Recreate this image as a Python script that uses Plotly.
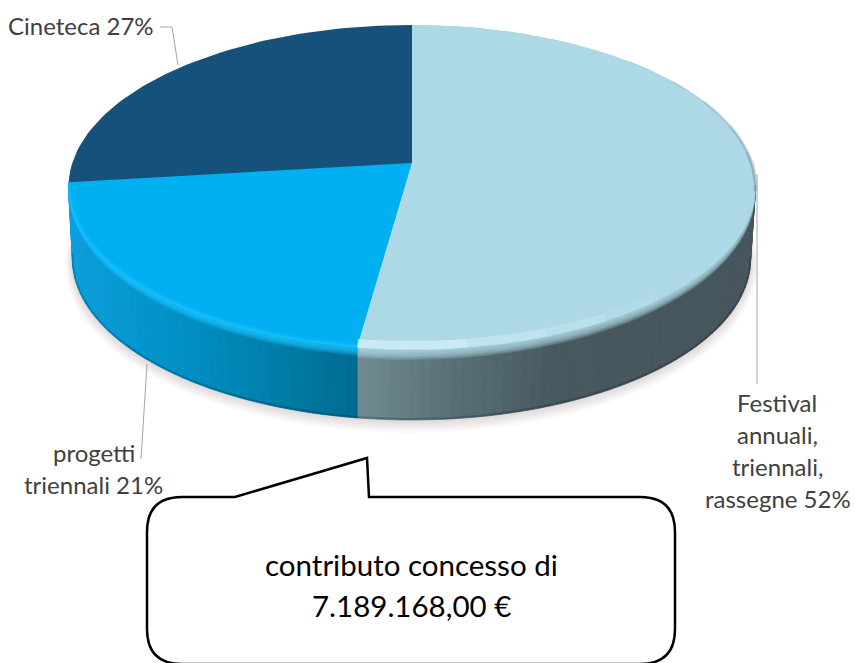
import math
import plotly.graph_objects as go

categories = ["Festival annuali, triennali, rassegne", "progetti triennali", "Cineteca"]
values = [52.2, 20.9, 26.9]
percent_labels = ["52%", "21%", "27%"]
face_colors = ["#add8e6", "#00b0f0", "#15517b"]
callout_lines = ["contributo concesso di", "7.189.168,00 €"]

CX, CY, RX, RY = 412.0, 187.0, 343.5, 162.0
HUB = (412.0, 163.0)
BX, BY, BRX, BRY = 411.5, 259.0, 339.0, 161.0
D = (CY - HUB[1]) / RY

W, H = 855, 663
fig = go.Figure()


def rim(theta, cx=CX, cy=CY, rx=RX, ry=RY):
    t = math.radians(theta)
    s, c = math.sin(t), math.cos(t)
    den = 1 + D * c
    return cx + rx * s * math.sqrt(1 - D * D) / den, cy - ry * (c + D) / den


def inset(theta, i):
    return rim(theta, CX, CY - i / 2, RX - max(i, 0) * 0.6, RY - i / 2)


def span(a, b, n=60):
    return [a + (b - a) * k / n for k in range(n + 1)]


def poly(xs, ys, color, seam=0):
    fig.add_trace(go.Scatter(x=xs, y=ys, mode="lines", fill="toself", fillcolor=color,
                             line=dict(width=seam, color=color), hoverinfo="skip", showlegend=False))


def stroke(xs, ys, color, width):
    fig.add_trace(go.Scatter(x=xs, y=ys, mode="lines", line=dict(color=color, width=width),
                             hoverinfo="skip", showlegend=False))


def rgba(hex_color, a):
    h = hex_color.lstrip("#")
    return f"rgba({int(h[0:2],16)},{int(h[2:4],16)},{int(h[4:6],16)},{a})"


def ramp(x, table):
    if x <= table[0][0]:
        return table[0][1]
    for (x0, c0), (x1, c1) in zip(table, table[1:]):
        if x <= x1:
            f = (x - x0) / (x1 - x0)
            a = [int(c0[i:i + 2], 16) for i in (1, 3, 5)]
            b = [int(c1[i:i + 2], 16) for i in (1, 3, 5)]
            return "rgb(" + ",".join(str(round(p + (q - p) * f)) for p, q in zip(a, b)) + ")"
    return table[-1][1]


edges = [0.0]
for v in values:
    edges.append(edges[-1] + v / sum(values) * 360)

# soft ground shadow
for k in range(7, 0, -1):
    xs, ys = [], []
    for t in span(0, 360, 120):
        a = math.radians(t)
        xs.append(BX + (BRX + k) * math.sin(a))
        ys.append(BY + 1 + k * 0.7 - (BRY + k) * math.cos(a))
    poly(xs, ys, "rgba(120,105,90,0.03)")

# side wall
light_ramp = [(359, "#708b92"), (450, "#5a7077"), (560, "#47585f"), (760, "#46555d")]
blue_ramp = [(68, "#0a9fdc"), (200, "#008cc0"), (300, "#00789f"), (359, "#006a92")]
walls = [(98.0, edges[1], light_ramp, 60), (edges[1], edges[2], blue_ramp, 44)]
for a, b, table, n in walls:
    for k in range(n):
        t0 = a + (b - a) * k / n
        t1 = a + (b - a) * (k + 1) / n
        p0, p1 = rim(t0), rim(t1)
        q0, q1 = rim(t0, BX, BY, BRX, BRY), rim(t1, BX, BY, BRX, BRY)
        poly([p0[0], p1[0], q1[0], q0[0], p0[0]], [p0[1], p1[1], q1[1], q0[1], p0[1]],
             ramp((p0[0] + p1[0]) / 2, table), seam=0.8)
# dark seam on the wall foot
seam = [rim(t, BX, BY, BRX, BRY) for t in span(98, edges[2], 120)]
stroke([p[0] for p in seam], [p[1] - 1 for p in seam], "rgba(0,20,30,0.22)", 2)


def wedge(a, b, i, color):
    pts = [inset(t, i) for t in span(a, b)]
    poly([HUB[0]] + [p[0] for p in pts] + [HUB[0]], [HUB[1]] + [p[1] for p in pts] + [HUB[1]], color)


# blue slice: blurred edge, bright bevel, flat face
a, b = edges[1], edges[2]
for i in range(-9, 0):
    wedge(a, b, i, rgba("#18c4ff", 0.2))
wedge(a, b, 0, "#12c0ff")
for i in range(1, 9):
    wedge(a, b, i, rgba(face_colors[1], 0.35))
wedge(a, b, 9, face_colors[1])

# light slice: blurred edge over the dark wall, flat face
a, b = edges[0], edges[1]
for i in range(-11, 0):
    wedge(a, b, i, rgba(face_colors[0], 0.18))
wedge(a, b, 0, face_colors[0])
# pale bevel fading along the front
pale = [(edges[1], 172, 0.6), (172, 160, 0.42), (160, 150, 0.25), (150, 140, 0.12)]
for t0, t1, alpha in pale:
    ts = span(t0, t1, 16)
    outer = [inset(t, -1) for t in ts]
    inner = [inset(t, 8) for t in reversed(ts)]
    pts = outer + inner
    poly([p[0] for p in pts] + [pts[0][0]], [p[1] for p in pts] + [pts[0][1]], rgba("#d8f6ff", alpha))
# shaded back right edge, growing towards the side
shade = [(44, 56, 0.08, 1.5), (56, 66, 0.14, 2), (66, 76, 0.2, 2.5), (76, 86, 0.26, 3), (86, 100, 0.32, 3.5)]
for t0, t1, alpha, width in shade:
    pts = [rim(t) for t in span(t0, t1, 12)]
    stroke([p[0] for p in pts], [p[1] for p in pts], f"rgba(70,88,98,{alpha})", width)

# dark slice
wedge(edges[2], edges[3], 0, face_colors[2])

# leader lines
LINE = "#a6a6a6"
stroke([160, 172, 178], [27, 27, 65], LINE, 1)
stroke([757, 757], [174, 384], LINE, 1)
stroke([147, 141], [364, 459], LINE, 1)

label_lines = [
    ("Cineteca " + percent_labels[2], 80.5, 25),
    ("Festival", 777, 402),
    ("annuali,", 777, 434),
    ("triennali,", 777, 466),
    ("rassegne " + percent_labels[0], 778, 498),
    ("progetti", 94, 452),
    ("triennali " + percent_labels[1], 93, 484),
]
annotations = [dict(x=x, y=y, xref="x", yref="y", text=t, showarrow=False, xanchor="center",
                    yanchor="middle", font=dict(family="Lato", size=24, color="#404040"))
               for t, x, y in label_lines]
annotations += [dict(x=411, y=y, xref="x", yref="y", text=t, showarrow=False, xanchor="center",
                     yanchor="middle", font=dict(family="Lato", size=29.5, color="#000000"))
                for t, y in zip(callout_lines, (564, 605))]

callout = ("M 182 497 L 235 497 L 367 458 L 369 497 L 640 497 Q 675 497 675 532 "
           "L 675 629 Q 675 664 640 664 L 182 664 Q 147 664 147 629 L 147 532 Q 147 497 182 497 Z")

fig.update_layout(
    width=W, height=H, autosize=False, margin=dict(l=0, r=0, t=0, b=0),
    paper_bgcolor="white", plot_bgcolor="white", showlegend=False,
    xaxis=dict(range=[0, W], visible=False, fixedrange=True),
    yaxis=dict(range=[H, 0], visible=False, fixedrange=True),
    shapes=[dict(type="path", path=callout, xref="x", yref="y",
                 line=dict(color="#000000", width=2.5), fillcolor="white")],
    annotations=annotations,
)

fig.write_html("out.html", config={"displayModeBar": False},
               post_script="document.body.style.margin='0';document.body.style.overflow='hidden';")
